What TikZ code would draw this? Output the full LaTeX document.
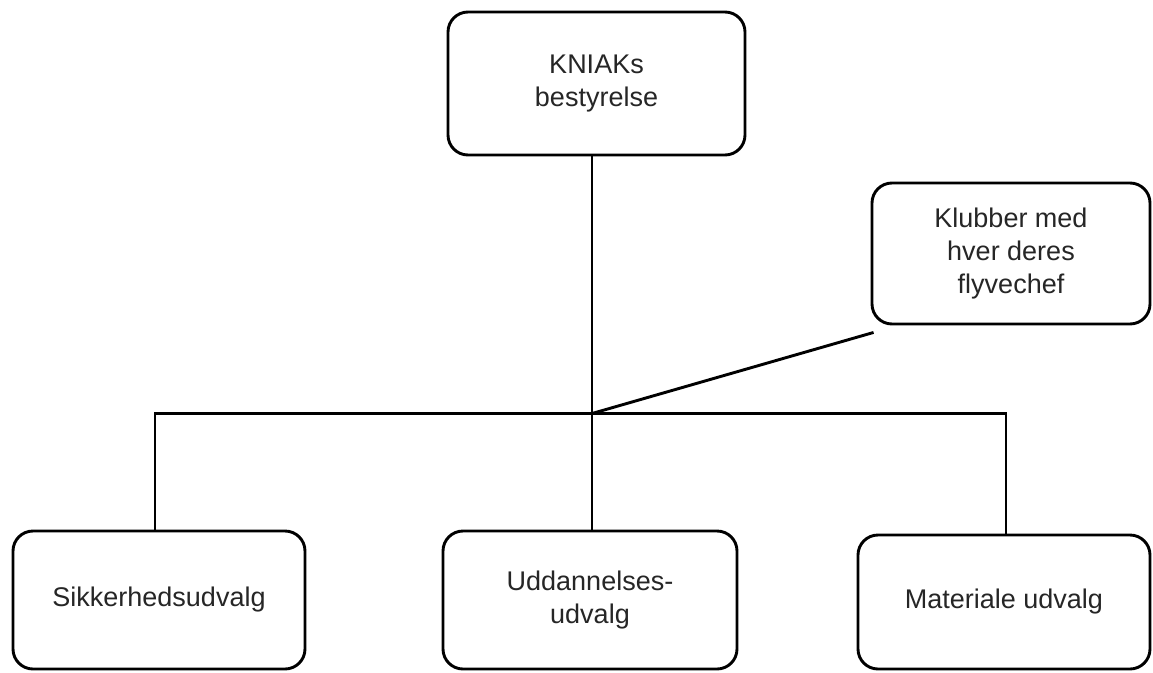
\documentclass[tikz,border=0pt]{standalone}
\usepackage{fontspec}
\setmainfont{Liberation Sans}
\begin{document}
\begin{tikzpicture}[x=1pt,y=-1pt,
  box/.style={draw=black, line width=2.9pt, rounded corners=20pt, fill=white,
    align=center, inner sep=0pt, text=black!85,
    font=\fontsize{27}{33}\selectfont},
  conn/.style={draw=black, line width=2.9pt}]
\useasboundingbox[fill=white] (0,0) rectangle (1153,672);
\node[box, minimum width=297pt, minimum height=143pt] (top) at (596.5,83.5) {KNIAKs\\bestyrelse};
\node[box, minimum width=278pt, minimum height=141pt] (klub) at (1011,253.5) {Klubber med\\hver deres\\flyvechef};
\node[box, minimum width=292pt, minimum height=138pt] (sik) at (159,600) {Sikkerhedsudvalg};
\node[box, minimum width=294pt, minimum height=138pt] (udd) at (590,600) {Uddannelses-\\udvalg};
\node[box, minimum width=292pt, minimum height=134pt] (mat) at (1004,602) {Materiale udvalg};
\coordinate (J) at (592,413.5);
\coordinate (kl) at ([shift={(3pt,-7pt)}]klub.south west);
\coordinate (sd) at ([xshift=-4pt]sik.north);
\coordinate (md) at ([xshift=2pt]mat.north);
\draw[conn] (J) -- (J |- top.south);
\draw[conn] (sd) |- (J);
\draw[conn] (J) -| (md);
\draw[conn] (J) -- (J |- udd.north);
\draw[conn] (J) -- (kl);
\end{tikzpicture}
\end{document}
